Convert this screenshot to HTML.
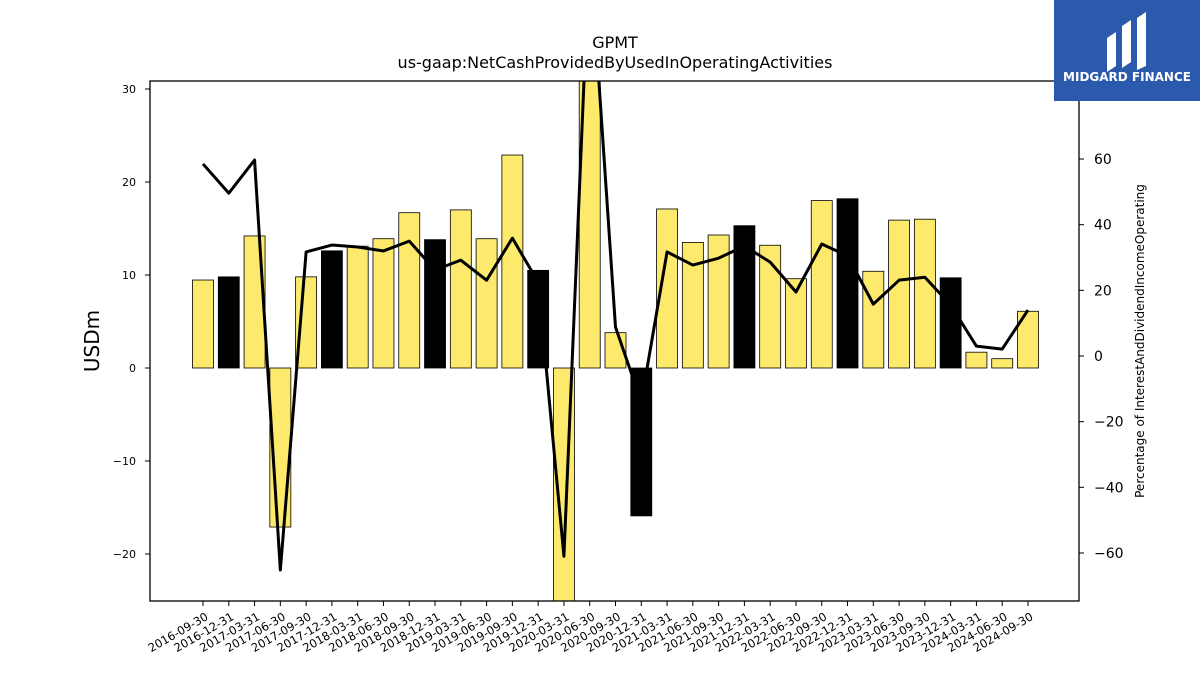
<!DOCTYPE html>
<html><head><meta charset="utf-8"><style>
body{margin:0;background:#fff;width:1200px;height:675px;overflow:hidden;font-family:"Liberation Sans","DejaVu Sans",sans-serif}
</style></head><body>
<svg id="chart" width="1200" height="675" xmlns="http://www.w3.org/2000/svg" font-family="DejaVu Sans, Liberation Sans, sans-serif">
<text x="615" y="48" font-size="16" text-anchor="middle">GPMT</text>
<text x="615" y="68" font-size="16" text-anchor="middle">us-gaap:NetCashProvidedByUsedInOperatingActivities</text>
<g id="bars"></g>
<g id="line"></g>
<g id="axes"></g>
<rect x="150" y="81" width="929" height="520" fill="none" stroke="#000" stroke-width="1.3"/>
<text transform="translate(99,341) rotate(-90)" font-size="20" text-anchor="middle">USDm</text>
<text transform="translate(1144,341) rotate(-90)" font-size="12" text-anchor="middle">Percentage of InterestAndDividendIncomeOperating</text>
<g>
<rect x="1054" y="0" width="146" height="101" fill="#2b5aad"/>
<path d="M1107 38 L1116 32 L1116 66 L1107 72 Z M1122 26 L1131 20 L1131 62 L1122 68 Z M1137 18 L1146 12 L1146 66 L1137 70 Z" fill="#fff"/>
<text x="1127" y="81" font-size="12" font-weight="bold" fill="#fff" text-anchor="middle">MIDGARD FINANCE</text>
</g>
</svg>
<script>
const categories=["2016-09-30","2016-12-31","2017-03-31","2017-06-30","2017-09-30","2017-12-31","2018-03-31","2018-06-30","2018-09-30","2018-12-31","2019-03-31","2019-06-30","2019-09-30","2019-12-31","2020-03-31","2020-06-30","2020-09-30","2020-12-31","2021-03-31","2021-06-30","2021-09-30","2021-12-31","2022-03-31","2022-06-30","2022-09-30","2022-12-31","2023-03-31","2023-06-30","2023-09-30","2023-12-31","2024-03-31","2024-06-30","2024-09-30"];
const barValues=[9.46,9.8,14.2,-17.1,9.8,12.6,13.1,13.9,16.7,13.8,17.0,13.9,22.9,10.5,-27,35,3.8,-15.9,17.1,13.5,14.3,15.3,13.2,9.6,18.0,18.2,10.4,15.9,16.0,9.7,1.7,1.0,6.1];
const pctValues=[58.5,49.6,59.7,-65.2,31.7,33.8,33.2,32,35,26.2,29.2,23.1,35.9,22.5,-61,125,8.8,-14,31.7,27.7,29.8,33.5,28.6,19.5,34.1,30.5,15.8,23.1,24,15.5,3,2.1,14];
const leftTicks=[-20,-10,0,10,20,30];
const rightTicks=[-60,-40,-20,0,20,40,60];
const NS="http://www.w3.org/2000/svg";
const X0=150,X1=1079,Y0=81,Y1=601;
const xs=i=>203+i*(1028-203)/(categories.length-1);
const yL=v=>368-9.3*v;
const yR=p=>356-3.283*p;
function mk(t,a,parent){const e=document.createElementNS(NS,t);for(const k in a)e.setAttribute(k,a[k]);parent.appendChild(e);return e;}
const svg=document.getElementById('chart');
const defs=mk('defs',{},svg);const cp=mk('clipPath',{id:'clip'},defs);mk('rect',{x:X0,y:Y0,width:X1-X0,height:Y1-Y0},cp);
const bars=document.getElementById('bars');bars.setAttribute('clip-path','url(#clip)');
barValues.forEach((v,i)=>{const y=Math.min(yL(v),yL(0)),h=Math.abs(yL(v)-yL(0));
const r=mk('rect',{x:xs(i)-10.5,y:y,width:21,height:h,fill:(i%4===1)?'#000':'#fdea6c',stroke:'#000','stroke-width':0.8},bars);

});
const line=document.getElementById('line');line.setAttribute('clip-path','url(#clip)');
const pl=mk('polyline',{points:pctValues.map((p,i)=>xs(i)+','+yR(p)).join(' '),fill:'none',stroke:'#000','stroke-width':3,'stroke-linejoin':'round'},line);


const axes=document.getElementById('axes');
leftTicks.forEach(t=>{const y=yL(t);mk('line',{x1:X0-5,x2:X0,y1:y,y2:y,stroke:'#000'},axes);
const tx=mk('text',{x:X0-14,y:y+4,'font-size':11,'text-anchor':'end'},axes);tx.textContent=t<0?'\u2212'+(-t):t;

});
rightTicks.forEach(t=>{const y=yR(t);mk('line',{x1:X1,x2:X1+5,y1:y,y2:y,stroke:'#000'},axes);
const tx=mk('text',{x:X1+15,y:y+5,'font-size':14},axes);tx.textContent=t<0?'\u2212'+(-t):t;

});
categories.forEach((c,i)=>{const x=xs(i);mk('line',{x1:x,x2:x,y1:Y1,y2:Y1+5,stroke:'#000'},axes);
const tx=mk('text',{x:x+6,y:Y1+18,'font-size':11.5,'text-anchor':'end',transform:`rotate(-30 ${x+6} ${Y1+18})`},axes);tx.textContent=c;

});
</script>
</body></html>
